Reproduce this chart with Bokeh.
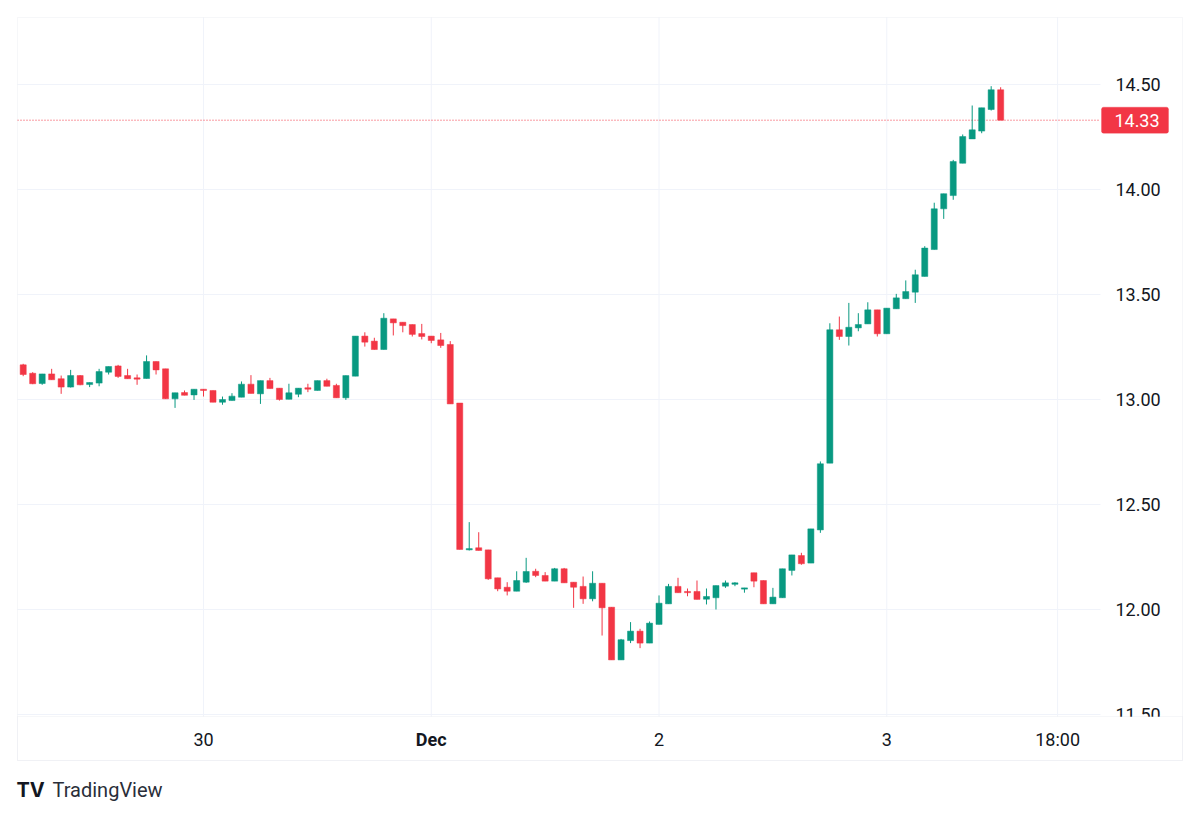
from bokeh.plotting import figure
from bokeh.models import (Range1d, LinearAxis, FixedTicker, PrintfTickFormatter,
                          Label, BoxAnnotation, ColumnDataSource)
from bokeh.embed import file_html
from bokeh.resources import INLINE

# Hourly candles, Nov 29 05:00 -> Dec 3 12:00 (index 0..103)
opens = [13.165, 13.125, 13.076, 13.122, 13.099, 13.059, 13.114, 13.071, 13.078, 13.13,
         13.16, 13.114, 13.103, 13.1, 13.181, 13.146, 13.003, 13.033, 13.022, 13.049,
         13.043, 12.987, 12.995, 13.011, 13.073, 13.027, 13.09, 13.054, 13.001, 13.025,
         13.056, 13.043, 13.09, 13.067, 13.008, 13.111, 13.302, 13.278, 13.238, 13.384,
         13.368, 13.357, 13.314, 13.302, 13.284, 13.262, 12.983, 12.284, 12.294, 12.284,
         12.151, 12.106, 12.087, 12.13, 12.182, 12.162, 12.135, 12.194, 12.13, 12.11,
         12.051, 12.125, 12.011, 11.76, 11.852, 11.897, 11.84, 11.929, 12.027, 12.11,
         12.086, 12.086, 12.049, 12.056, 12.111, 12.12, 12.097, 12.175, 12.138, 12.027,
         12.056, 12.186, 12.257, 12.221, 12.379, 12.697, 13.332, 13.3, 13.341, 13.36,
         13.427, 13.313, 13.432, 13.48, 13.511, 13.586, 13.714, 13.908, 13.971, 14.125,
         14.241, 14.278, 14.381, 14.475]
highs = [13.17, 13.13, 13.122, 13.146, 13.114, 13.141, 13.116, 13.081, 13.146, 13.157,
         13.165, 13.146, 13.119, 13.21, 13.181, 13.146, 13.032, 13.043, 13.049, 13.049,
         13.043, 13.014, 13.03, 13.086, 13.116, 13.09, 13.103, 13.054, 13.075, 13.054,
         13.075, 13.09, 13.099, 13.075, 13.114, 13.302, 13.32, 13.294, 13.411, 13.384,
         13.368, 13.357, 13.36, 13.302, 13.317, 13.278, 12.983, 12.416, 12.368, 12.284,
         12.151, 12.13, 12.182, 12.246, 12.194, 12.178, 12.198, 12.198, 12.13, 12.157,
         12.182, 12.125, 12.011, 11.86, 11.94, 11.908, 11.943, 12.067, 12.122, 12.151,
         12.1, 12.138, 12.1, 12.114, 12.138, 12.13, 12.103, 12.175, 12.138, 12.103,
         12.194, 12.26, 12.27, 12.384, 12.705, 13.363, 13.395, 13.46, 13.411, 13.463,
         13.427, 13.435, 13.503, 13.567, 13.618, 13.73, 13.937, 13.98, 14.141, 14.262,
         14.4, 14.389, 14.492, 14.487]
lows = [13.111, 13.073, 13.07, 13.094, 13.027, 13.057, 13.068, 13.059, 13.063, 13.119,
        13.103, 13.099, 13.07, 13.1, 13.119, 13.003, 12.96, 13.02, 12.998, 13.014,
        12.987, 12.975, 12.995, 13.011, 13.029, 12.979, 13.052, 12.995, 13.001, 13.011,
        13.035, 13.043, 13.063, 13.008, 12.998, 13.111, 13.252, 13.238, 13.238, 13.305,
        13.32, 13.3, 13.286, 13.268, 13.246, 12.979, 12.286, 12.281, 12.281, 12.141,
        12.087, 12.067, 12.087, 12.127, 12.154, 12.135, 12.135, 12.127, 12.008, 12.027,
        12.039, 11.876, 11.76, 11.76, 11.84, 11.816, 11.84, 11.929, 12.027, 12.08,
        12.063, 12.048, 12.024, 12.0, 12.103, 12.111, 12.08, 12.106, 12.027, 12.027,
        12.056, 12.162, 12.213, 12.221, 12.365, 12.697, 13.284, 13.257, 13.325, 13.36,
        13.3, 13.313, 13.432, 13.48, 13.46, 13.586, 13.714, 13.86, 13.951, 14.125,
        14.241, 14.268, 14.376, 14.33]
closes = [13.119, 13.075, 13.122, 13.094, 13.059, 13.114, 13.07, 13.081, 13.133, 13.157,
          13.11, 13.099, 13.097, 13.181, 13.141, 13.003, 13.032, 13.02, 13.049, 13.043,
          12.987, 13.0, 13.016, 13.073, 13.029, 13.09, 13.052, 13.0, 13.032, 13.054,
          13.049, 13.09, 13.063, 13.008, 13.114, 13.302, 13.273, 13.238, 13.387, 13.365,
          13.352, 13.31, 13.3, 13.281, 13.257, 12.979, 12.286, 12.29, 12.281, 12.146,
          12.098, 12.087, 12.138, 12.181, 12.162, 12.135, 12.194, 12.127, 12.106, 12.051,
          12.125, 12.008, 11.76, 11.856, 11.897, 11.84, 11.935, 12.03, 12.11, 12.08,
          12.08, 12.048, 12.062, 12.114, 12.127, 12.127, 12.103, 12.135, 12.027, 12.059,
          12.194, 12.26, 12.218, 12.384, 12.694, 13.332, 13.3, 13.344, 13.357, 13.427,
          13.313, 13.435, 13.484, 13.514, 13.594, 13.721, 13.908, 13.98, 14.133, 14.252,
          14.284, 14.389, 14.475, 14.33]

last_price = 14.33
price_ticks = [11.5, 12.0, 12.5, 13.0, 13.5, 14.0, 14.5]
time_tick_idx = [19, 43, 67, 91, 109]
time_tick_labels = ["30", "Dec", "2", "3", "18:00"]

UP = "#089981"
DOWN = "#F23645"
GRID = "#F0F3FA"
BORDER = "#E0E3EB"
TEXT = "#131722"
FONT = "Roboto"

# ---- page geometry (pixels) ----
W, H = 1200, 817
BAR0_PX, BAR_PX = 22.7, 9.49          # centre of first candle, px per candle
Y13_PX, UNIT_PX = 399.0, 210.0        # pixel row of 13.00, px per 1.00
PANE_L, PANE_R, PANE_T, PANE_B = 17, 1100, 17, 716
BOX_R, BOX_B = 1182, 760
TAG_L, TAG_R, TAG_H = 1101, 1168, 26

def px2x(px):
    return (px - BAR0_PX) / BAR_PX

def px2y(py):
    return 13.0 + (Y13_PX - py) / UNIT_PX

idx = list(range(len(opens)))
colors = [UP if c >= o else DOWN for o, c in zip(opens, closes)]
src = ColumnDataSource(dict(
    x=idx, open=opens, high=highs, low=lows, close=closes,
    top=[max(o, c) for o, c in zip(opens, closes)],
    bottom=[min(o, c) for o, c in zip(opens, closes)],
    color=colors))

p = figure(frame_width=W, frame_height=H, output_backend="svg", toolbar_location=None,
           x_range=Range1d(px2x(0), px2x(W)), y_range=Range1d(px2y(H), px2y(0)),
           min_border=0, background_fill_color="white", border_fill_color="white",
           outline_line_color=None, x_axis_location="below", y_axis_location=None)
p.grid.visible = False

# grid lines limited to the chart pane
p.segment(x0=px2x(PANE_L), x1=px2x(PANE_R), y0=price_ticks, y1=price_ticks,
          line_color=GRID, line_width=1)
p.segment(x0=time_tick_idx, x1=time_tick_idx, y0=px2y(PANE_T), y1=px2y(PANE_B),
          line_color=GRID, line_width=1)

# last price dotted line
p.segment(x0=px2x(PANE_L), x1=px2x(PANE_R), y0=last_price, y1=last_price,
          line_color=DOWN, line_dash="1 2", line_width=1)

# candles
p.segment(x0="x", x1="x", y0="low", y1="high", color="color", line_width=1, source=src)
p.vbar(x="x", width=0.64, top="top", bottom="bottom", fill_color="color",
       line_color="color", line_width=0.5, source=src)

# time axis (labels drawn inside the bottom strip)
xa = p.xaxis[0]
xa.ticker = FixedTicker(ticks=time_tick_idx)
xa.major_label_overrides = {i: ("" if t == "Dec" else t) for i, t in zip(time_tick_idx, time_tick_labels)}
xa.axis_line_color = None
xa.major_tick_line_color = None
xa.minor_tick_line_color = None
xa.major_tick_out = 0
xa.major_tick_in = 0
xa.major_label_text_font = FONT
xa.major_label_text_font_size = "18px"
xa.major_label_text_color = TEXT
xa.major_label_standoff = -89

for i, t in zip(time_tick_idx, time_tick_labels):
    if t == "Dec":
        p.add_layout(Label(x=i, y=px2y(738.5), text=t, text_align="center",
                           text_baseline="middle", text_font=FONT, text_font_size="18px",
                           text_font_style="bold", text_color=TEXT))

# price axis (labels drawn inside the right strip)
ya = LinearAxis(ticker=FixedTicker(ticks=price_ticks),
                formatter=PrintfTickFormatter(format="%.2f"))
ya.axis_line_color = None
ya.major_tick_line_color = None
ya.minor_tick_line_color = None
ya.major_tick_out = 0
ya.major_tick_in = 0
ya.major_label_text_font = FONT
ya.major_label_text_font_size = "18px"
ya.major_label_text_color = TEXT
ya.major_label_standoff = -85
p.add_layout(ya, "right")

# last price tag
half = TAG_H / 2 / UNIT_PX
p.add_layout(BoxAnnotation(left=px2x(TAG_L), right=px2x(TAG_R),
                           bottom=last_price - half, top=last_price + half,
                           fill_color=DOWN, fill_alpha=1, line_color=DOWN,
                           border_radius=2, level="overlay"))
p.add_layout(Label(x=px2x((TAG_L + TAG_R) / 2 + 2), y=last_price, text="%.2f" % last_price,
                   text_align="center", text_baseline="middle", text_font=FONT,
                   text_font_size="18px", text_color="white", level="overlay"))

# mask under the time strip on the price scale, then borders
p.add_layout(BoxAnnotation(left=px2x(PANE_R + 1), right=px2x(BOX_R - 1),
                           bottom=px2y(BOX_B - 1), top=px2y(PANE_B + 0.5),
                           fill_color="white", fill_alpha=1, line_color=None,
                           level="overlay"))
p.add_layout(BoxAnnotation(left=px2x(PANE_L), right=px2x(BOX_R),
                           bottom=px2y(BOX_B), top=px2y(PANE_B),
                           fill_alpha=0, line_color=BORDER, line_width=1, level="overlay"))
p.add_layout(BoxAnnotation(left=px2x(PANE_L), right=px2x(BOX_R),
                           bottom=px2y(BOX_B), top=px2y(PANE_T),
                           fill_alpha=0, line_color=BORDER, line_width=1, level="overlay"))

# branding
p.add_layout(Label(x=px2x(16), y=px2y(789), text="TV", text_baseline="middle",
                   text_font="Inter", text_font_size="20px", text_font_style="bold",
                   text_color=TEXT))
p.add_layout(Label(x=px2x(52), y=px2y(789), text="TradingView", text_baseline="middle",
                   text_font=FONT, text_font_size="20px", text_color="#2A2E39"))

open("out.html", "w").write(file_html(p, INLINE))
